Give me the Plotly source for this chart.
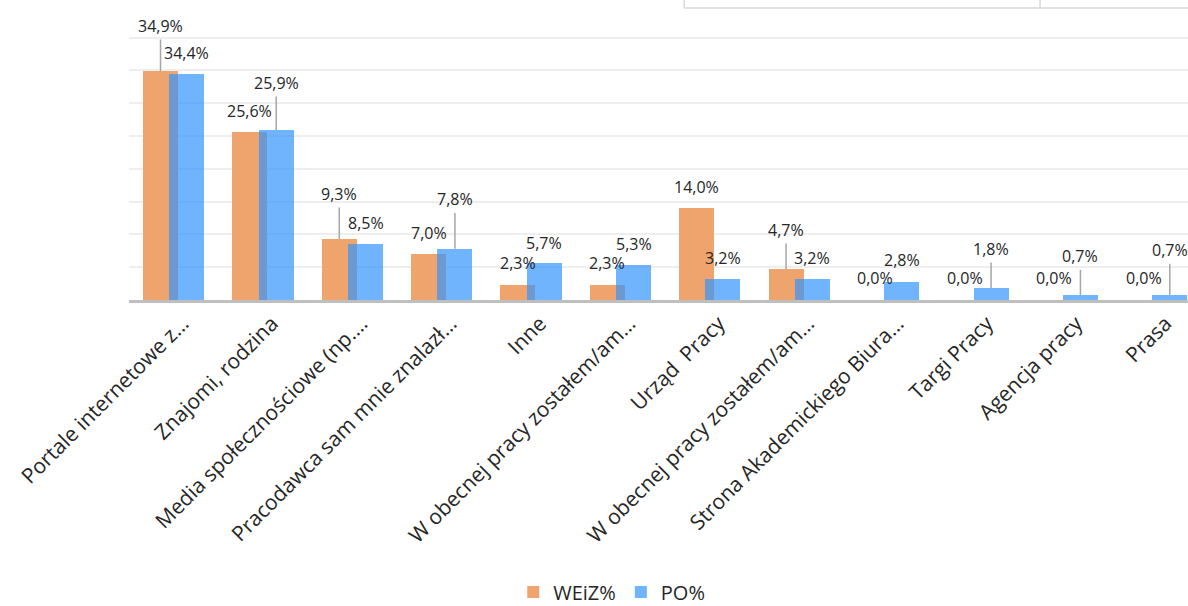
import plotly.graph_objects as go

# ---- data ----
categories = [
    "Portale internetowe z…",
    "Znajomi, rodzina",
    "Media społecznościowe (np.…",
    "Pracodawca sam mnie znalazł…",
    "Inne",
    "W obecnej pracy zostałem/am…",
    "Urząd  Pracy",
    "W obecnej pracy zostałem/am…",
    "Strona Akademickiego Biura…",
    "Targi Pracy",
    "Agencja pracy",
    "Prasa",
]
weiz = [34.9, 25.6, 9.3, 7.0, 2.3, 2.3, 14.0, 4.7, 0.0, 0.0, 0.0, 0.0]
po = [34.4, 25.9, 8.5, 7.8, 5.7, 5.3, 3.2, 3.2, 2.8, 1.8, 0.7, 0.7]
gridlines = [0, 5, 10, 15, 20, 25, 30, 35, 40]

# ---- label placement (positions, in axis units) ----
weiz_label_y = [41.8, 28.8, 16.2, 10.2, 5.6, 5.6, 17.2, 10.7, 3.3, 3.3, 3.3, 3.3]
po_label_y = [37.7, 33.1, 11.8, 15.35, 8.7, 8.55, 6.35, 6.35, 6.1, 7.8, 6.7, 7.6]
weiz_leader = [True, False, True, False, False, False, False, True, False, False, False, False]
po_leader = [False, True, False, True, False, False, False, False, False, True, True, True]

# ---- styles ----
ORANGE = "#F0A46D"
BLUE = "rgba(51,148,252,0.70)"
TEXT = "#262626"
FONT = "Open Sans"
CAT_PX = 89.39          # pixel width of one category
PLOT_L = 128.65
PLOT_W = 1188 - PLOT_L
BAR_W = 35.0 / CAT_PX
OFF_O = -30.65 / CAT_PX
OFF_B = -4.35 / CAT_PX
PX_PER_UNIT = 6.56
PLOT_TOP_VAL = 300 / PX_PER_UNIT

x = list(range(len(categories)))

fig = go.Figure()
fig.add_trace(go.Bar(
    x=x, y=weiz, name="WEiZ%", width=BAR_W, offset=OFF_O,
    marker=dict(color=ORANGE, line=dict(width=0)),
))
fig.add_trace(go.Bar(
    x=x, y=po, name="PO%", width=BAR_W, offset=OFF_B,
    marker=dict(color=BLUE, line=dict(width=0)),
))

co = OFF_O + BAR_W / 2
cb = OFF_B + BAR_W / 2


def fmt(v):
    return f"{v:.1f}".replace(".", ",") + "%"


annotations = []
shapes = []
for i in x:
    for val, ly, lead, c in ((weiz[i], weiz_label_y[i], weiz_leader[i], co),
                             (po[i], po_label_y[i], po_leader[i], cb)):
        annotations.append(dict(
            x=i + c, y=ly, xref="x", yref="y", text=fmt(val), showarrow=False,
            xanchor="center", yanchor="middle",
            font=dict(family=FONT, size=16, color=TEXT),
        ))
        if lead:
            shapes.append(dict(
                type="line", xref="x", yref="y", x0=i + c, x1=i + c,
                y0=val, y1=ly - 13.7 / PX_PER_UNIT,
                line=dict(color="#a6a6a6", width=1.5),
            ))

# faint box fragment at the top right of the frame
def px(v):
    return (v - PLOT_L) / PLOT_W
def py(v):
    return (300 - v) / 300.0

for (x0, y0, x1, y1) in ((684, 8, 1188, 8), (684, 0, 684, 8), (1040, 0, 1040, 8)):
    shapes.append(dict(type="line", xref="paper", yref="paper",
                       x0=px(x0), x1=px(x1), y0=py(y0), y1=py(y1),
                       line=dict(color="#d9d9d9", width=1.5)))

fig.update_layout(
    width=1188, height=606,
    margin=dict(l=PLOT_L, r=0, t=0, b=306, autoexpand=False),
    paper_bgcolor="white", plot_bgcolor="white",
    barmode="overlay",
    bargap=0,
    font=dict(family=FONT, size=16, color=TEXT),
    xaxis=dict(
        range=[-0.5, -0.5 + PLOT_W / CAT_PX], tickmode="array", tickvals=x,
        ticktext=categories,
        tickangle=-45, showgrid=False, zeroline=False,
        showline=True, linecolor="#bfbfbf", linewidth=3,
        ticks="", tickfont=dict(family=FONT, size=21, color=TEXT),
        ticklabelshift=9, ticklabeloverflow="allow",
        automargin=False, fixedrange=True,
    ),
    yaxis=dict(
        range=[0, PLOT_TOP_VAL], tickmode="array", tickvals=gridlines,
        showticklabels=False, showgrid=True, gridcolor="#eeeeee", gridwidth=1.5,
        zeroline=False, showline=False, ticks="", automargin=False,
        fixedrange=True,
    ),
    legend=dict(
        orientation="h", x=(513 - PLOT_L) / PLOT_W, xanchor="left",
        y=(300 - 592) / 300.0, yanchor="middle",
        font=dict(family=FONT, size=20, color=TEXT),
        itemwidth=30, tracegroupgap=0,
    ),
    annotations=annotations,
    shapes=shapes,
    showlegend=True,
)

fig.write_html("out.html", config={"displayModeBar": False},
               post_script="document.body.style.margin='0';")
